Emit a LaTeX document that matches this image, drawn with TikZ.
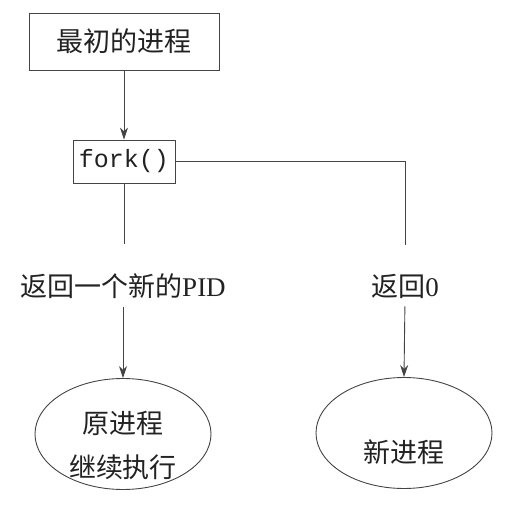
\documentclass[tikz,border=0pt]{standalone}
\usepackage{fontspec}
\setmainfont{Liberation Serif}
\setmonofont{Liberation Mono}
\newfontfamily\cjk{Noto Sans CJK SC}
\usetikzlibrary{shapes.geometric, arrows.meta, positioning}
\definecolor{linegray}{HTML}{444444}
\definecolor{inkgray}{HTML}{222222}

\begin{document}
\begin{tikzpicture}[
        x=1pt, y=-1pt,
        startbox/.style={rectangle, minimum width=190pt, minimum height=57pt, inner sep=0pt, draw=linegray, line width=0.9pt, fill=white, text=inkgray, font=\cjk\fontsize{27}{30}\selectfont},
        forkbox/.style={rectangle, minimum width=102pt, minimum height=43pt, inner sep=0pt, draw=linegray, line width=0.9pt, fill=white, text=inkgray, font=\ttfamily\fontsize{25}{28}\selectfont},
        retlabel/.style={inner sep=0pt, text=inkgray, font=\fontsize{27}{30}\selectfont},
        procbox/.style={ellipse, minimum width=176pt, minimum height=111pt, inner sep=0pt, draw=linegray, line width=0.9pt},
        proctext/.style={inner sep=0pt, align=center, text=inkgray, font=\cjk\fontsize{27}{44}\selectfont},
        line/.style={draw=linegray, line width=0.9pt},
        arrow/.style={line, -{Stealth[length=12pt, width=8pt]}}
    ]
        \useasboundingbox (0,0) rectangle (515,513);

        % Top: the starting process and the call
        \node (init) [startbox] at (124,41.5) {最初的进程};
        \node (fork) [forkbox] at (124,161.5) {fork()};

        % Return values
        \node (pidlbl) [retlabel] at (123,286) {{\cjk 返回一个新的}PID};
        \node (zerolbl) [retlabel] at (405,286) {{\cjk 返回}0};

        % Resulting processes
        \node (parent) [procbox] at (123,434) {};
        \node (parenttxt) [proctext] at ([yshift=-11pt]parent.center) {原进程\\继续执行};
        \node (child) [procbox] at (404,433) {};
        \node (childtxt) [proctext] at ([yshift=-19pt]child.center) {新进程};

        % Connectors
        \draw [arrow] (init.south) -- (fork.north);
        \draw [line, shorten >=29pt] (fork.south) -- (fork.south |- pidlbl.north);
        \draw [line, shorten >=29pt] (fork.east) -| (zerolbl.north);
        \draw [arrow, shorten <=8pt] (pidlbl.south) -- (parent.north);
        \draw [arrow, shorten <=8pt] (zerolbl.south) -- (child.north);

    \end{tikzpicture}
\end{document}
